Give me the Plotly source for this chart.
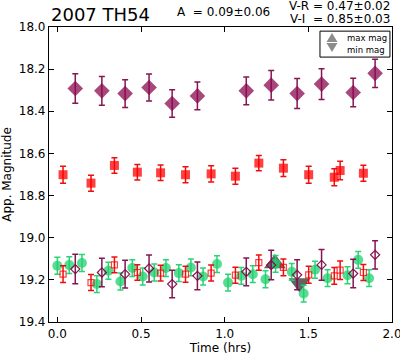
import plotly.graph_objects as go

# ---- data (hrs, magnitudes) ----
t_vi = [0.107, 0.266, 0.405, 0.548, 0.686, 0.837, 1.129, 1.278, 1.433, 1.579, 1.768, 1.899]
m_i = [18.292, 18.303, 18.316, 18.287, 18.363, 18.327, 18.303, 18.276, 18.316, 18.271, 18.311, 18.220]
e_i = [0.070, 0.068, 0.066, 0.064, 0.065, 0.066, 0.066, 0.070, 0.071, 0.073, 0.068, 0.067]

t_vr = [0.034, 0.201, 0.341, 0.478, 0.617, 0.766, 0.919, 1.064, 1.204, 1.351, 1.502, 1.655, 1.690, 1.829]
m_r = [18.701, 18.741, 18.657, 18.689, 18.692, 18.701, 18.697, 18.708, 18.646, 18.670, 18.701, 18.713, 18.681, 18.694]
e_r = [0.040, 0.038, 0.037, 0.037, 0.037, 0.038, 0.038, 0.038, 0.036, 0.040, 0.040, 0.040, 0.044, 0.038]

t_v = [0.000, 0.071, 0.147, 0.236, 0.305, 0.377, 0.448, 0.510, 0.579, 0.649, 0.726, 0.798, 0.871,
       0.954, 1.020, 1.099, 1.168, 1.244, 1.304, 1.401, 1.472, 1.540, 1.615, 1.734, 1.798, 1.863]
m_v = [19.133, 19.130, 19.120, 19.220, 19.157, 19.208, 19.144, 19.184, 19.165, 19.144, 19.168, 19.141, 19.184,
       19.125, 19.213, 19.181, 19.173, 19.197, 19.124, 19.162, 19.265, 19.152, 19.192, 19.178, 19.105, 19.192]
e_v = [0.040] * len(t_v)

m_r_shift = [19.173, 19.213, 19.129, 19.165, 19.168, 19.173, 19.168, 19.178, 19.118, 19.141, 19.176, 19.181, 19.154, 19.165]
m_i_shift = [19.149, 19.165, 19.173, 19.146, 19.220, 19.181, 19.162, 19.130, 19.176, 19.129, 19.170, 19.081]

t_max, m_max = [1.300], [19.122]
t_min, m_min = [1.447], [19.215]

xticks = [0.0, 0.5, 1.0, 1.5, 2.0]
yticks = [18.0, 18.2, 18.4, 18.6, 18.8, 19.0, 19.2, 19.4]
legend_labels = ["max mag", "min mag"]

PURPLE = "rgba(139,10,80,0.75)"
PURPLE_E = "rgba(128,10,72,0.95)"
RED = "rgba(255,0,0,0.75)"
RED_E = "rgba(240,0,0,0.95)"
GREEN = "rgba(30,210,110,0.75)"
GREEN_E = "rgba(30,210,110,0.95)"
GRAY = "rgba(60,60,60,0.8)"
GRAY_LEG = "rgb(140,140,140)"

fig = go.Figure()

fig.add_trace(go.Scatter(x=t_max, y=m_max, mode="markers", name=legend_labels[0], showlegend=False,
                         marker=dict(symbol="triangle-up", size=19, color=GRAY, line=dict(width=0))))
fig.add_trace(go.Scatter(x=t_min, y=m_min, mode="markers", name=legend_labels[1], showlegend=False,
                         marker=dict(symbol="triangle-down", size=19, color=GRAY, line=dict(width=0))))


def err(e, c):
    return dict(type="data", array=e, visible=True, color=c, thickness=1.5, width=3)


fig.add_trace(go.Scatter(x=t_v, y=m_v, mode="markers", showlegend=False,
                         marker=dict(symbol="circle", size=10, color=GREEN, line=dict(width=0)),
                         error_y=err(e_v, GREEN_E)))
fig.add_trace(go.Scatter(x=t_vr, y=m_r_shift, mode="markers", showlegend=False,
                         marker=dict(symbol="square-open", size=6, color=RED, line=dict(width=1.2)),
                         error_y=err(e_r, RED_E)))
fig.add_trace(go.Scatter(x=t_vi, y=m_i_shift, mode="markers", showlegend=False,
                         marker=dict(symbol="diamond-open", size=7, color=PURPLE_E, line=dict(width=1.2)),
                         error_y=err(e_i, PURPLE_E)))
fig.add_trace(go.Scatter(x=t_vr, y=m_r, mode="markers", showlegend=False,
                         marker=dict(symbol="square", size=9, color=RED, line=dict(width=0)),
                         error_y=err(e_r, RED_E)))
fig.add_trace(go.Scatter(x=t_vi, y=m_i, mode="markers", showlegend=False,
                         marker=dict(symbol="diamond", size=12, color=PURPLE, line=dict(width=0)),
                         error_y=err(e_i, PURPLE_E)))

FONT = "DejaVu Sans"
axis_common = dict(showline=True, linecolor="black", linewidth=1.2, mirror="ticks",
                   ticks="inside", ticklen=5, tickwidth=1, tickcolor="black",
                   showgrid=False, zeroline=False, automargin=False, ticklabeloverflow="allow",
                   tickfont=dict(family=FONT, size=12, color="black"))

fig.update_layout(
    width=400, height=355,
    margin=dict(l=49, r=8, t=27, b=33),
    plot_bgcolor="white", paper_bgcolor="white",
    font=dict(family=FONT, color="black"),
    xaxis=dict(range=[-0.05, 2.0], tickvals=xticks, ticktext=[f"{v:.1f}" for v in xticks],
               title=dict(text="Time (hrs)", font=dict(family=FONT, size=12), standoff=6),
               **axis_common),
    yaxis=dict(range=[19.4, 18.0], tickvals=yticks, ticktext=[f"{v:.1f}" for v in yticks],
               title=dict(text="App. Magnitude", font=dict(family=FONT, size=12), standoff=4),
               **axis_common),
    showlegend=False,
)

# legend box (drawn by hand to match compact matplotlib legend)
fig.add_shape(type="rect", xref="paper", yref="paper", x0=0.790, x1=0.994, y0=0.898, y1=0.986,
              line=dict(color="black", width=1), fillcolor="white", layer="above")
fig.add_shape(type="path", xref="paper", yref="paper",
              path="M 0.8251 0.9797 L 0.8411 0.9492 L 0.8090 0.9492 Z",
              line=dict(width=0), fillcolor=GRAY_LEG, layer="above")
fig.add_shape(type="path", xref="paper", yref="paper",
              path="M 0.8090 0.9458 L 0.8411 0.9458 L 0.8251 0.9153 Z",
              line=dict(width=0), fillcolor=GRAY_LEG, layer="above")
fig.add_annotation(text=legend_labels[0], xref="paper", yref="paper", x=0.864, y=0.962, xanchor="left",
                   yanchor="middle", showarrow=False, font=dict(family=FONT, size=8.5, color="black"))
fig.add_annotation(text=legend_labels[1], xref="paper", yref="paper", x=0.864, y=0.922, xanchor="left",
                   yanchor="middle", showarrow=False, font=dict(family=FONT, size=8.5, color="black"))

fig.add_annotation(text="2007 TH54", xref="paper", yref="paper", x=0.0, y=1.044,
                   xanchor="left", yanchor="middle", showarrow=False,
                   font=dict(family=FONT, size=18, color="black"))
fig.add_annotation(text="A  = 0.09±0.06", xref="paper", yref="paper", x=0.367, y=1.051,
                   xanchor="left", yanchor="middle", showarrow=False,
                   font=dict(family=FONT, size=12, color="black"))
fig.add_annotation(text="V-R = 0.47±0.02", xref="paper", yref="paper", x=1.0, y=1.071,
                   xanchor="right", yanchor="middle", showarrow=False,
                   font=dict(family=FONT, size=12, color="black"))
fig.add_annotation(text="V-I  = 0.85±0.03", xref="paper", yref="paper", x=1.0, y=1.027,
                   xanchor="right", yanchor="middle", showarrow=False,
                   font=dict(family=FONT, size=12, color="black"))

fig.write_html("out.html", config={"displayModeBar": False},
               post_script="document.body.style.margin='0';")
